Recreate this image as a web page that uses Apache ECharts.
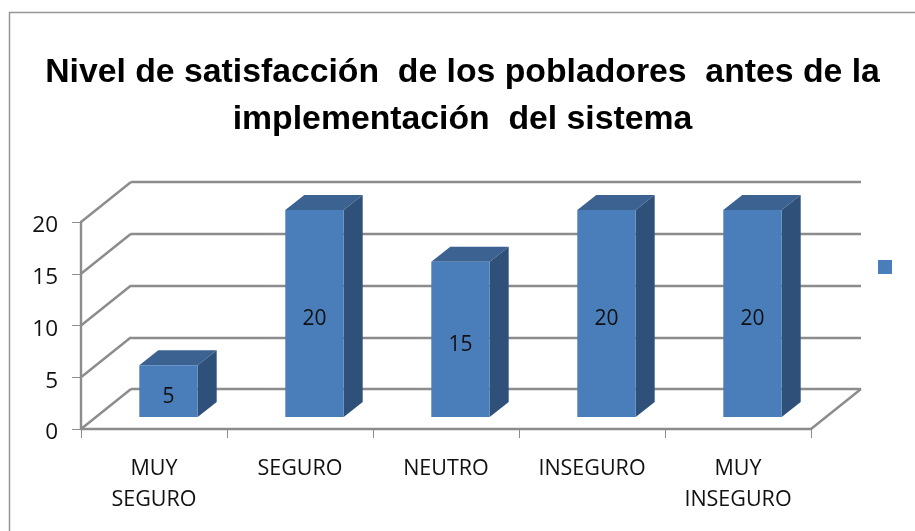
<!DOCTYPE html>
<html>
<head>
<meta charset="utf-8">
<style>
  html, body { margin: 0; padding: 0; background: #fff; }
  #chart { width: 915px; height: 531px; }
</style>
<script src="https://cdn.jsdelivr.net/npm/echarts@6/dist/echarts.min.js"></script>
</head>
<body>
<div id="chart"></div>
<script>
var titleText = 'Nivel de satisfacción  de los pobladores  antes de la\nimplementación  del sistema'
var categories = ['MUY\nSEGURO', 'SEGURO', 'NEUTRO', 'INSEGURO', 'MUY\nINSEGURO']
var values = [5, 20, 15, 20, 20]
var yTicks = [0, 5, 10, 15, 20]

var gridColor = '#8c8c8c'
var labelFont = '"Open Sans", "Noto Sans", sans-serif'

// oblique lines that join the front axis with the back wall
function renderWallLine(params, api) {
  var rect = params.coordSys
  var y = api.coord([0, api.value(0)])[1]
  return {
    type: 'line',
    silent: true,
    shape: { x1: rect.x, y1: y, x2: rect.x + 50, y2: y - 40 },
    style: { stroke: gridColor, lineWidth: 2.4 }
  }
}

// floor edge on the right side
function renderFloorEdge(params, api) {
  var rect = params.coordSys
  var y = api.coord([0, 0])[1]
  return {
    type: 'line',
    silent: true,
    shape: { x1: rect.x + rect.width, y1: y, x2: rect.x + rect.width + 50, y2: y - 40 },
    style: { stroke: gridColor, lineWidth: 2.4 }
  }
}

// box with front, top and side faces
function renderBox(params, api) {
  var value = api.value(1)
  var center = api.coord([api.value(0), 0])
  var band = api.size([1, 0])[0]
  var w = band * 0.4
  var x0 = center[0] + 14.5 - w / 2
  var y0 = center[1] - 12
  var top = y0 - (center[1] - api.coord([api.value(0), value])[1])
  var dx = 19
  var dy = 15
  return {
    type: 'group',
    children: [
      {
        type: 'polygon',
        shape: { points: [[x0, top], [x0 + dx, top - dy], [x0 + w + dx, top - dy], [x0 + w, top]] },
        style: { fill: '#3b6290' }
      },
      {
        type: 'polygon',
        shape: { points: [[x0 + w, top], [x0 + w + dx, top - dy], [x0 + w + dx, y0 - dy], [x0 + w, y0]] },
        style: { fill: '#2f5179' }
      },
      {
        type: 'rect',
        shape: { x: x0, y: top, width: w, height: y0 - top },
        style: { fill: '#4a7ebb' }
      },
      {
        type: 'text',
        style: {
          x: x0 + w / 2,
          y: (top + y0) / 2 + 6,
          text: String(value),
          fill: '#111',
          font: '21px ' + labelFont,
          textAlign: 'center',
          textVerticalAlign: 'middle'
        }
      }
    ]
  }
}

var chart = echarts.init(document.getElementById('chart'))
chart.setOption({
  animation: false,
  backgroundColor: '#fff',
  title: {
    text: titleText,
    left: 457.5,
    top: 44,
    textAlign: 'center',
    textStyle: {
      fontFamily: '"Liberation Sans", Arial, sans-serif',
      fontWeight: 'bold',
      fontSize: 33.75,
      lineHeight: 47,
      color: '#000'
    }
  },
  legend: {
    left: 873,
    top: 255,
    itemWidth: 14,
    itemHeight: 14,
    itemGap: 0,
    icon: 'rect',
    data: ['Serie1'],
    formatter: function () { return '' },
    selectedMode: false
  },
  graphic: [{
    type: 'rect',
    silent: true,
    z: -1,
    shape: { x: 9.5, y: 12.5, width: 920, height: 530 },
    style: { fill: 'none', stroke: '#969696', lineWidth: 1.5 }
  }],
  grid: [
    { left: 81, top: 222, width: 730, height: 207 },
    { left: 131, top: 182, width: 730, height: 207 }
  ],
  xAxis: [
    {
      type: 'category',
      gridIndex: 0,
      data: categories,
      axisLine: { lineStyle: { color: gridColor, width: 2.4 } },
      axisTick: { show: true, alignWithLabel: false, length: 9, lineStyle: { color: gridColor, width: 1 } },
      axisLabel: {
        interval: 0,
        margin: 24,
        fontFamily: labelFont,
        fontSize: 21.5,
        lineHeight: 31,
        color: '#111'
      }
    },
    { type: 'category', gridIndex: 1, data: categories, show: false }
  ],
  yAxis: [
    {
      type: 'value',
      gridIndex: 0,
      min: 0,
      max: 20,
      interval: 5,
      axisLine: { show: true, lineStyle: { color: gridColor, width: 2.4 } },
      axisTick: { show: true, length: 9, lineStyle: { color: gridColor, width: 1 } },
      splitLine: { show: false },
      axisLabel: { margin: 23, verticalAlign: 'top', lineHeight: 8, fontFamily: labelFont, fontSize: 22.5, color: '#111' }
    },
    {
      type: 'value',
      gridIndex: 1,
      min: 0,
      max: 20,
      interval: 5,
      axisLine: { show: false },
      axisTick: { show: false },
      axisLabel: { show: false },
      splitLine: { show: true, lineStyle: { color: gridColor, width: 2.4 } }
    }
  ],
  series: [
    {
      name: 'walls',
      type: 'custom',
      xAxisIndex: 0,
      yAxisIndex: 0,
      data: yTicks,
      renderItem: renderWallLine,
      encode: { y: 0 },
      z: 1,
      silent: true
    },
    {
      name: 'floor',
      type: 'custom',
      xAxisIndex: 0,
      yAxisIndex: 0,
      data: [0],
      renderItem: renderFloorEdge,
      encode: { y: 0 },
      z: 1,
      silent: true
    },
    {
      name: 'Serie1',
      type: 'custom',
      xAxisIndex: 0,
      yAxisIndex: 0,
      itemStyle: { color: '#4a7ebb' },
      data: values.map(function (v, i) { return [i, v] }),
      renderItem: renderBox,
      encode: { x: 0, y: 1 },
      z: 3
    }
  ]
})
</script>
</body>
</html>
